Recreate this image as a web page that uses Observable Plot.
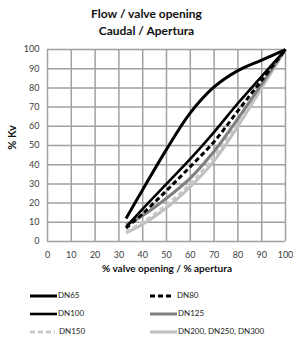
<!DOCTYPE html>
<html><head><meta charset="utf-8">
<script src="https://cdn.jsdelivr.net/npm/d3@7"></script>
<script src="https://cdn.jsdelivr.net/npm/@observablehq/plot@0.6"></script>
<style>
body{margin:0;background:#fff;font-family:Lato,"Open Sans",sans-serif;}
#wrap{position:relative;width:293px;height:338px;overflow:hidden;background:#fff;}
.title{position:absolute;left:0;width:293px;text-align:center;font-weight:bold;font-size:12px;color:#111;line-height:14px;}
#chart{position:absolute;left:0;top:40px;}
.axt{position:absolute;font-weight:bold;font-size:10px;color:#111;white-space:nowrap;}
.leg{position:absolute;font-size:8px;color:#222;white-space:nowrap;line-height:10px;}
.leg svg{vertical-align:middle;}
</style></head><body>
<div id="wrap">
  <div class="title" style="top:7px">Flow / valve opening</div>
  <div class="title" style="top:24px">Caudal / Apertura</div>
  <div id="chart"></div>
  <div class="axt" id="xl" style="top:262px;left:97px;width:140px;text-align:center">% valve opening / % apertura</div>
  <div class="axt" id="yl" style="font-size:11px;top:131px;left:-7px;width:36px;text-align:center;transform:rotate(-90deg)">% Kv</div>
  <div id="legend"></div>
</div>
<script>
// valve opening (%) sample points
const opening = [33, 40, 50, 60, 70, 80, 90, 100];
// % Kv per series
const dn65  = [12, 27, 48, 67, 80.5, 89, 94.5, 100];
const dn80  = [7, 14.5, 26.5, 39, 52, 68, 84, 100];
const dn100 = [7.5, 17, 30, 43, 57, 72, 86, 100];
const dn125 = [8.5, 13.5, 22.5, 33, 47, 64, 82, 100];
const dn150 = [5, 10, 19, 30, 44, 62, 81, 100];
const dn200 = [4.5, 9, 17.5, 28.5, 42, 60, 80, 100];
const seriesNames = ["DN65", "DN80", "DN100", "DN125", "DN150", "DN200, DN250, DN300"];
const seriesValues = [dn65, dn80, dn100, dn125, dn150, dn200];
const xTicks = [0, 10, 20, 30, 40, 50, 60, 70, 80, 90, 100];
const yTicks = [0, 10, 20, 30, 40, 50, 60, 70, 80, 90, 100];

// styles (kept separate from data)
const styles = {
  "DN65": {stroke: "#000", width: 3, dash: null},
  "DN80": {stroke: "#000", width: 3, dash: "5,3"},
  "DN100": {stroke: "#000", width: 2.6, dash: null},
  "DN125": {stroke: "#808080", width: 3, dash: null},
  "DN150": {stroke: "#c8c8c8", width: 3, dash: "5,3"},
  "DN200, DN250, DN300": {stroke: "#bfbfbf", width: 3, dash: null}
};
const drawOrder = ["DN200, DN250, DN300", "DN150", "DN125", "DN80", "DN100", "DN65"];

const rows = [];
seriesNames.forEach((s, i) => opening.forEach((x, j) => rows.push({series: s, x, y: seriesValues[i][j]})));

const lineMarks = drawOrder.map(s => Plot.line(rows.filter(r => r.series === s), {
  x: "x", y: "y", curve: "catmull-rom",
  stroke: styles[s].stroke, strokeWidth: styles[s].width,
  strokeDasharray: styles[s].dash, strokeLinecap: "butt"
}));

const chart = Plot.plot({
  width: 293, height: 240,
  marginTop: 9, marginLeft: 47, marginRight: 8, marginBottom: 39,
  style: {fontFamily: "Lato, 'Open Sans', sans-serif", fontSize: "9px", color: "#404040", background: "#fff"},
  x: {domain: [0, 100], ticks: xTicks, label: null},
  y: {domain: [0, 100], ticks: yTicks, label: null},
  marks: [
    Plot.gridX(xTicks, {stroke: "#a0a0a0", strokeOpacity: 1, strokeWidth: 1.5}),
    Plot.gridY(yTicks, {stroke: "#a0a0a0", strokeOpacity: 1, strokeWidth: 1.5}),
    Plot.axisX(xTicks, {tickSize: 0, tickPadding: 10, label: null, fill: "#404040"}),
    Plot.axisY(yTicks, {tickSize: 0, tickPadding: 8, label: null, fill: "#404040"}),
    ...lineMarks
  ]
});
document.getElementById("chart").appendChild(chart);

// legend
const legPos = {
  "DN65": [30, 295, 27], "DN80": [150, 295, 23],
  "DN100": [30, 313, 27], "DN125": [150, 313, 27],
  "DN150": [30, 331, 25], "DN200, DN250, DN300": [150, 331, 27]
};
const legend = document.getElementById("legend");
seriesNames.forEach(s => {
  const [lx, ly, w] = legPos[s];
  const st = styles[s];
  const div = document.createElement("div");
  div.className = "leg";
  div.style.left = lx + "px";
  div.style.top = (ly - 5) + "px";
  const gap = st.dash ? 4 : 1;
  div.innerHTML = `<svg width="${w + gap}" height="10"><line x1="0" x2="${w}" y1="5" y2="5" stroke="${st.stroke}" stroke-width="${st.width}" ${st.dash ? `stroke-dasharray="${st.dash}"` : ""}/></svg>${s}`;
  legend.appendChild(div);
});
</script>
</body></html>
